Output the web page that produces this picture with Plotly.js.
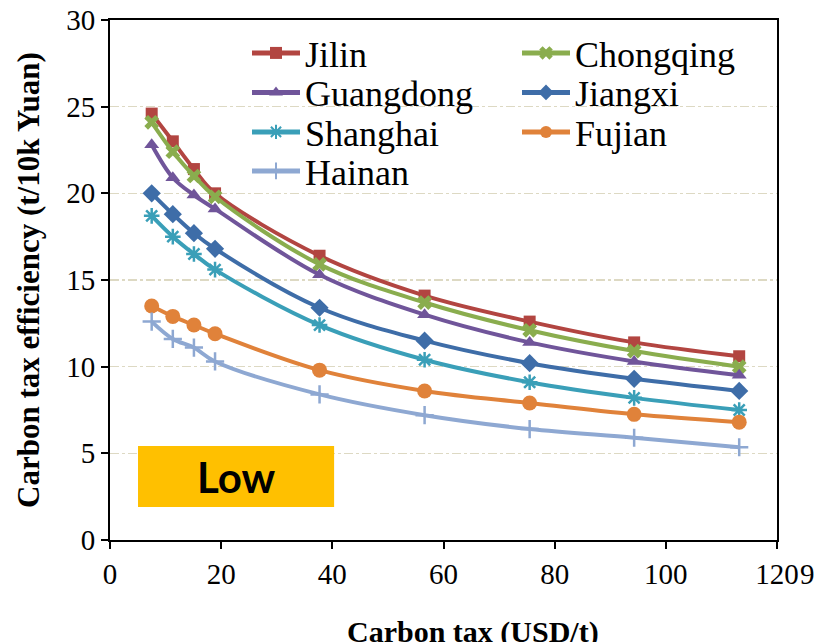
<!DOCTYPE html>
<html>
<head>
<meta charset="utf-8">
<script src="https://cdn.plot.ly/plotly-3.0.1.min.js"></script>
<style>html,body{margin:0;padding:0;background:#fff;}#chart{width:825px;height:642px;}</style>
</head>
<body>
<div id="chart"></div>
<script>
// Data
const carbonTax = [7.5, 11.3, 15.1, 18.9, 37.7, 56.6, 75.5, 94.3, 113.2];
const provinces = ["Jilin", "Chongqing", "Guangdong", "Jiangxi", "Shanghai", "Fujian", "Hainan"];
const jilin     = [24.6, 23.0, 21.4, 20.0, 16.4, 14.1, 12.6, 11.4, 10.6];
const chongqing = [24.1, 22.4, 21.0, 19.8, 15.9, 13.7, 12.1, 10.9, 10.0];
const guangdong = [22.8, 20.9, 19.9, 19.1, 15.3, 13.0, 11.4, 10.3, 9.5];
const jiangxi   = [20.0, 18.8, 17.7, 16.8, 13.4, 11.5, 10.2, 9.3, 8.6];
const shanghai  = [18.7, 17.5, 16.5, 15.6, 12.4, 10.4, 9.1, 8.2, 7.5];
const fujian    = [13.5, 12.9, 12.4, 11.9, 9.8, 8.6, 7.9, 7.25, 6.8];
const hainan    = [12.6, 11.6, 11.1, 10.3, 8.4, 7.2, 6.4, 5.9, 5.35];
const xTickVals = [0, 20, 40, 60, 80, 100, 120];
const yTickVals = [0, 5, 10, 15, 20, 25, 30];
const xTitle = "Carbon tax (USD/t)";
const yTitle = "Carbon tax efficiency (t/10k Yuan)";
const boxLabel = "Low";

const seriesValues = [jilin, chongqing, guangdong, jiangxi, shanghai, fujian, hainan];
const colors  = ["#B24541", "#8AAD4E", "#70559A", "#3E6DA8", "#3A9FB8", "#E0823A", "#8EA8D2"];
const symbols = ["square", "x", "triangle-up", "diamond", "asterisk-open", "circle", "cross-thin-open"];
const sizes   = [12, 13, 13, 14, 13, 15, 13];

const serif = "Times New Roman, Liberation Serif, serif";

// one legend box per entry, laid out as two columns like the reference
const legendColX = [0.2054, 0.6102];
const legendRowY = [0.9365, 0.8606, 0.7846, 0.7096];
const legendIds = provinces.map((p, i) => i === 0 ? "legend" : "legend" + (i + 1));

const traces = provinces.map((name, i) => ({
  type: "scatter",
  mode: "lines+markers",
  name: name,
  legend: legendIds[i],
  x: carbonTax,
  y: seriesValues[i],
  line: {color: colors[i], width: 4, shape: "spline", smoothing: 1},
  marker: {
    symbol: symbols[i],
    size: sizes[i],
    color: colors[i],
    line: {color: colors[i], width: (symbols[i].indexOf("open") >= 0) ? 2.5 : 0}
  }
}));

const layout = {
  width: 825,
  height: 642,
  margin: {l: 110, r: 48, t: 20, b: 102},
  paper_bgcolor: "#ffffff",
  plot_bgcolor: "#ffffff",
  font: {family: serif, color: "#000"},
  showlegend: true,
  xaxis: {
    range: [0, 120],
    tickvals: xTickVals,
    ticktext: xTickVals.map(String),
    showgrid: false,
    zeroline: false,
    showline: true,
    linecolor: "#000",
    linewidth: 2,
    mirror: true,
    ticks: "outside",
    ticklen: 7,
    tickwidth: 2,
    tickcolor: "#000",
    tickfont: {family: serif, size: 29, color: "#000"}
  },
  yaxis: {
    range: [0, 30],
    tickvals: yTickVals,
    ticktext: yTickVals.map(String),
    showgrid: true,
    gridcolor: "#DDD9C3",
    gridwidth: 1.5,
    griddash: "dashdot",
    zeroline: false,
    showline: true,
    linecolor: "#000",
    linewidth: 2,
    mirror: true,
    ticks: "outside",
    ticklen: 7,
    tickwidth: 2,
    tickcolor: "#000",
    tickfont: {family: serif, size: 29, color: "#000"},
    title: {text: yTitle, font: {family: serif, size: 31, color: "#000", weight: "bold"}, standoff: 17}
  },
  shapes: [{
    type: "rect",
    xref: "paper", yref: "paper",
    x0: 0.042, x1: 0.336, y0: 0.0635, y1: 0.181,
    fillcolor: "#FFC000",
    line: {width: 0},
    layer: "above"
  }],
  annotations: [
    {
      text: "<b>" + boxLabel + "</b>",
      xref: "paper", yref: "paper",
      x: 0.189, y: 0.122, xanchor: "center", yanchor: "middle",
      showarrow: false,
      font: {family: "Lato, Liberation Sans, sans-serif", size: 42, color: "#000"}
    },
    {
      text: "<b>" + xTitle + "</b>",
      xref: "paper", yref: "paper",
      x: 0.544, y: -0.14, xanchor: "center", yanchor: "top",
      showarrow: false,
      font: {family: serif, size: 30, color: "#000"}
    },
    {
      text: "9",
      xref: "paper", yref: "paper",
      x: 1.032, y: -0.065, xanchor: "left", yanchor: "middle",
      showarrow: false,
      font: {family: serif, size: 29, color: "#000"}
    }
  ]
};

legendIds.forEach((id, i) => {
  layout[id] = {
    orientation: "v",
    x: legendColX[i % 2],
    xanchor: "left",
    y: legendRowY[Math.floor(i / 2)],
    yanchor: "middle",
    itemwidth: 48,
    itemsizing: "constant",
    bgcolor: "rgba(0,0,0,0)",
    borderwidth: 0,
    font: {family: serif, size: 36, color: "#000"}
  };
});

Plotly.newPlot("chart", traces, layout, {displayModeBar: false, staticPlot: true});
</script>
</body>
</html>
